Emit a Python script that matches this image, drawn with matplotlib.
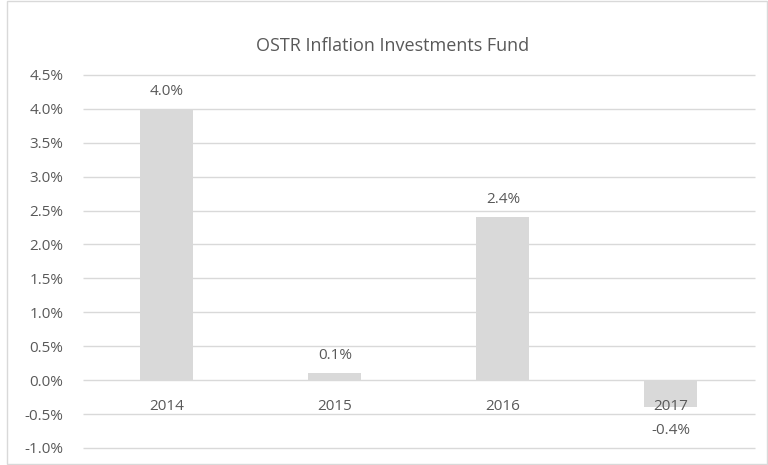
import matplotlib
matplotlib.use('Agg')
import matplotlib.pyplot as plt
from matplotlib.patches import Rectangle
from matplotlib.ticker import FuncFormatter

# 数据
years = ['2014', '2015', '2016', '2017']
returns = [4.0, 0.1, 2.4, -0.4]
y_ticks = [-1.0, -0.5, 0.0, 0.5, 1.0, 1.5, 2.0, 2.5, 3.0, 3.5, 4.0, 4.5]

plt.rcParams['font.family'] = ['Open Sans', 'DejaVu Sans']
text_color = '#595959'
grid_color = '#D9D9D9'

fig = plt.figure(figsize=(7.68, 4.65), dpi=100)
ax = fig.add_axes([0.108, 0.0366, 0.875, 0.8024])

x = range(len(years))
ax.bar(x, returns, width=0.315, color='#D9D9D9', zorder=2)

ax.set_ylim(-1.0, 4.5)
ax.set_xlim(-0.5, len(years) - 0.5)
ax.set_yticks(y_ticks)
ax.yaxis.set_major_formatter(FuncFormatter(lambda v, p: f'{v:.1f}%'))
# 网格线
ax.hlines(y_ticks, -0.5, len(years) - 0.5, colors=grid_color, linewidth=1,
          zorder=0, clip_on=False)

for s in ['top', 'right', 'left', 'bottom']:
    ax.spines[s].set_visible(False)
ax.set_xticks([])
ax.tick_params(axis='y', length=0, labelsize=11, colors=text_color, pad=14)

# 类别标签（画在柱子上方）
for i, yr in enumerate(years):
    ax.annotate(yr, (i, 0), xytext=(0, -19), textcoords='offset points',
                ha='center', va='center', fontsize=11, color=text_color, zorder=5)

# 数据标签
for i, v in enumerate(returns):
    if v >= 0:
        ax.annotate(f'{v:.1f}%', (i, v), xytext=(0, 12.5), textcoords='offset points',
                    ha='center', va='center', fontsize=11, color=text_color)
    else:
        ax.annotate(f'{v:.1f}%', (i, v), xytext=(0, -17), textcoords='offset points',
                    ha='center', va='center', fontsize=11, color=text_color)

fig.text(0.511, 0.902, 'OSTR Inflation Investments Fund', ha='center', va='center',
         fontsize=13, color=text_color)

# 外框
fig.patches.append(Rectangle((7 / 768, 0.002), 1 - 8 / 768, 0.996, transform=fig.transFigure,
                             fill=False, edgecolor='#D9D9D9', linewidth=1))

fig.savefig('out.png', dpi=100)
